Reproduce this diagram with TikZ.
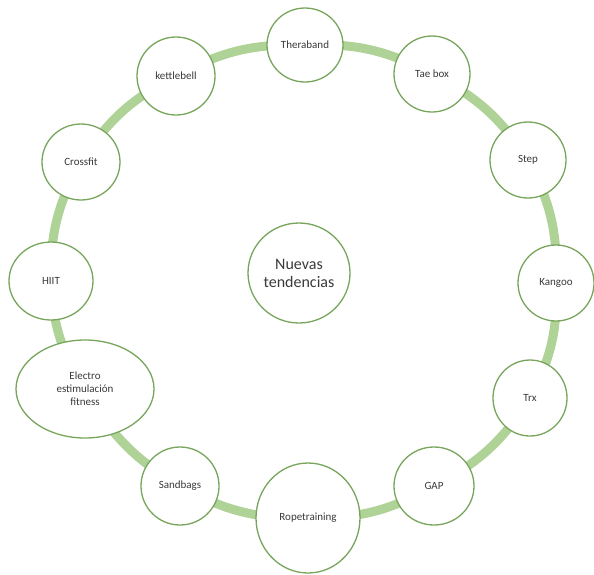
\documentclass[tikz,border=0pt]{standalone}
\usepackage{fontspec}
\setmainfont{Carlito}
\usetikzlibrary{backgrounds}
\definecolor{ringgreen}{HTML}{AFD297}
\definecolor{edgegreen}{HTML}{78A55C}
\definecolor{txt}{HTML}{3A3A3A}
\tikzset{
  item/.style={ellipse, draw=edgegreen, line width=1.3pt, fill=white, text=txt,
    font=\fontsize{11}{13}\selectfont, align=center, inner sep=0pt},
  ring/.style={draw=ringgreen, line width=9pt},
}
\usetikzlibrary{shapes.geometric}
\begin{document}
\begin{tikzpicture}[x=1pt,y=-1pt]
\useasboundingbox (0,0) rectangle (594,574);
\node[item, minimum width=76pt, minimum height=74pt] (thera) at (305,45) {Theraband};
\node[item, minimum width=76pt, minimum height=76pt] (tae) at (432,74) {Tae box};
\node[item, minimum width=76pt, minimum height=76pt] (step) at (528,160) {Step};
\node[item, minimum width=76pt, minimum height=76pt] (kangoo) at (556,283) {Kangoo};
\node[item, minimum width=74pt, minimum height=76pt] (trx) at (530,398) {Trx};
\node[item, minimum width=80pt, minimum height=78pt] (gap) at (434,486) {GAP};
\node[item, minimum width=104pt, minimum height=110pt] (rope) at (308,518) {Ropetraining};
\node[item, minimum width=78pt, minimum height=78pt] (sand) at (180,486) {Sandbags};
\node[item, minimum width=138pt, minimum height=98pt] (electro) at (85,389) {Electro\\estimulación\\fitness};
\node[item, minimum width=84pt, minimum height=78pt] (hiit) at (51,281) {HIIT};
\node[item, minimum width=78pt, minimum height=76pt] (cross) at (81,162) {Crossfit};
\node[item, minimum width=78pt, minimum height=78pt] (kettle) at (176,76) {kettlebell};
\node[item, minimum width=102pt, minimum height=100pt, font=\fontsize{16}{18}\selectfont] (center) at (299,273) {Nuevas\\tendencias};
\begin{scope}[on background layer]
\draw[ring] (thera.center) to[bend left=15] (tae.center)
  to[bend left=15] (step.center)
  to[bend left=15] (kangoo.center)
  to[bend left=15] (trx.center)
  to[bend left=15] (gap.center)
  to[bend left=15] (rope.center)
  to[bend left=15] (sand.center)
  to[bend left=15] (electro.center)
  to[bend left=15] (hiit.center)
  to[bend left=15] (cross.center)
  to[bend left=15] (kettle.center)
  to[bend left=15] (thera.center);
\end{scope}
\end{tikzpicture}
\end{document}
